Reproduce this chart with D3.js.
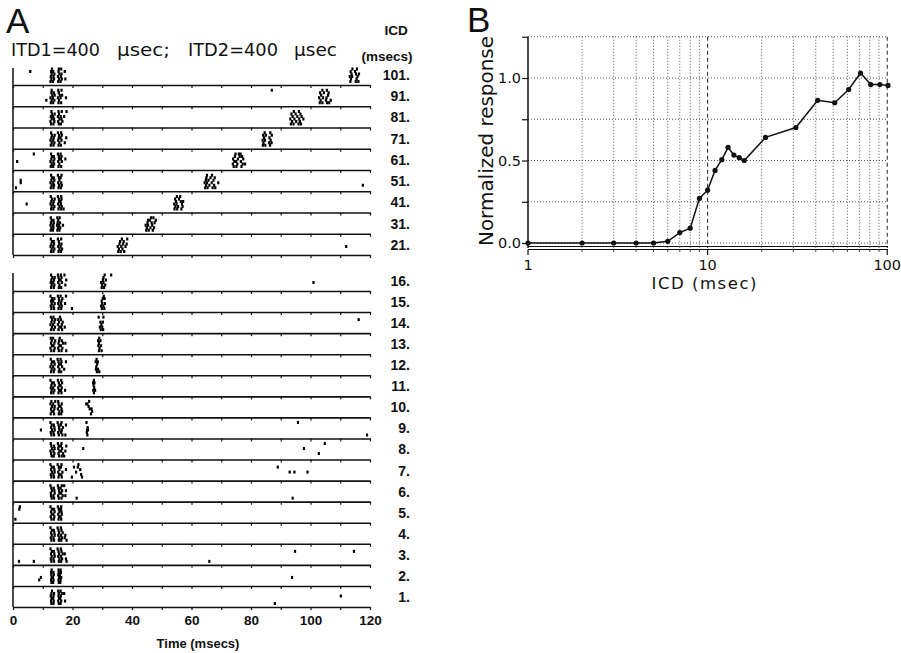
<!DOCTYPE html>
<html>
<head>
<meta charset="utf-8">
<script src="https://cdn.jsdelivr.net/npm/d3@7"></script>
<style>
  html, body { margin: 0; padding: 0; background: #fff; }
  svg { display: block; }
</style>
</head>
<body>
<svg id="chart" width="901" height="653"></svg>
<script>
// ---------------- DATA ----------------
// Panel A: ICD rows (msec), top and bottom groups
const icdTop = [101, 91, 81, 71, 61, 51, 41, 31, 21];
const icdBottom = [16, 15, 14, 13, 12, 11, 10, 9, 8, 7, 6, 5, 4, 3, 2, 1];
const timeTicks = [0, 10, 20, 30, 40, 50, 60, 70, 80, 90, 100, 110, 120];
const timeTickLabels = [0, 20, 40, 60, 80, 100, 120];
const headerParts = ["ITD1=400", "µsec;", "ITD2=400", "µsec"];

// Spike times (msec) per row, one list per trial (6 trials, bottom trial first)
const spikes = {
  101: [[12.6,13.4,15.2,16.0,113.4,115.2,116.1],[12.9,13.8,15.5,16.4,17.6,113.6,115.5],[12.7,13.6,15.1,16.1,113.2,114.0,115.8],[13.0,13.9,15.6,16.3,113.8,115.3,116.3],[5.8,12.8,13.5,15.3,17.4,113.5,115.0],[13.1,15.4,16.2,114.1,115.6]],
  91: [[12.7,13.5,15.3,16.2,103.1,104.0,105.6,106.3],[11.2,13.0,13.9,15.5,103.4,105.2,106.8],[12.6,13.4,15.1,16.0,17.8,102.9,104.2,105.4],[13.2,14.0,15.7,16.5,103.6,105.9],[12.9,13.7,15.4,103.2,104.5,106.1],[13.0,15.2,16.3,87.0,104.0,105.5]],
  81: [[12.8,13.6,15.4,16.1,93.4,94.3,96.0,96.8],[12.6,13.9,15.2,16.6,93.8,95.2,96.4],[13.0,13.8,15.6,16.3,93.2,94.6,96.2,97.6],[12.7,13.5,15.1,16.0,17.2,94.0,95.6,97.0],[13.1,14.0,15.5,93.6,95.0,96.6],[12.9,15.3,16.4,18.0,94.4,96.1]],
  71: [[12.7,13.6,15.3,16.1,84.0,84.8,86.4],[13.0,13.9,15.6,17.4,84.2,86.1,86.9],[12.6,13.5,15.2,16.3,83.9,84.7,86.6],[12.9,13.7,15.4,16.0,17.9,84.4,86.2],[13.1,14.0,15.5,16.4,84.1,85.0,87.0],[12.8,15.1,16.2,84.6,86.5]],
  61: [[12.7,13.5,15.3,16.2,74.2,75.1,76.8],[13.0,13.8,15.6,73.9,75.4,77.2,78.0],[1.4,12.6,13.6,15.2,16.4,74.4,75.0,76.6],[12.9,13.9,15.5,16.1,17.6,74.0,75.6,77.4],[13.1,13.7,15.4,16.3,74.6,76.2,77.0],[7.0,12.8,15.1,16.0,74.8,75.9,76.5]],
  51: [[1.0,12.7,13.6,15.3,16.1,64.6,65.4,67.1,68.0],[13.0,13.8,15.5,16.4,64.9,66.0,67.6,117.6],[2.6,12.6,13.5,15.2,16.2,64.4,65.2,66.8,69.0],[2.6,12.9,13.9,15.6,64.8,65.7,67.4],[13.1,13.7,15.4,16.0,65.0,66.4,67.8],[12.8,15.1,16.3,65.2,66.9]],
  41: [[12.8,13.6,15.3,16.2,17.0,54.3,55.2,56.6],[13.0,13.9,15.6,16.4,54.6,55.5,57.0],[4.6,12.6,13.5,15.2,16.1,54.2,55.0,56.8],[12.9,13.7,15.5,16.0,54.8,56.4,57.2],[13.1,14.0,15.4,16.3,54.5,55.8],[12.7,15.1,16.2,55.1,56.2]],
  31: [[12.7,13.4,14.9,15.6,44.8,45.6,47.0],[12.9,13.6,15.1,15.9,45.0,46.2,47.4],[12.6,13.5,14.8,15.5,16.8,44.6,45.4,46.8],[12.8,13.7,15.0,15.8,45.2,46.6,47.6],[13.0,13.6,15.2,45.4,46.0,48.0],[12.7,14.9,15.7,46.4,47.2]],
  21: [[12.8,13.6,15.3,16.1,35.4,36.2,37.4],[13.0,13.9,15.6,16.5,35.6,36.8],[12.6,13.5,15.2,16.0,35.2,36.4,37.8,112.0],[12.9,13.8,15.5,16.3,35.8,37.0,38.2],[13.1,13.7,15.4,36.0,37.2],[12.7,15.1,16.2,36.6,38.4]],
  16: [[12.8,13.7,15.4,16.2,29.8,30.6],[13.0,13.9,15.6,17.6,30.0,31.0],[12.7,13.5,15.2,16.4,29.6,30.4,101.0],[12.9,13.8,15.5,16.0,17.9,30.2,31.2],[13.2,14.0,15.3,16.3,30.4],[12.8,15.1,16.1,17.3,30.8,33.0]],
  15: [[12.9,13.8,15.3,16.2,19.8,29.9,30.7],[12.7,13.6,15.6,16.4,29.6,30.4],[13.0,14.0,15.2,16.1,17.5,30.0,30.9],[12.8,13.5,15.5,16.3,29.8],[13.1,13.9,15.4,16.6,30.2,30.8],[12.6,15.1,16.0,17.8,30.5]],
  14: [[12.8,13.7,15.3,16.5,29.5,30.3],[13.1,14.1,15.6,16.2,17.4,29.2,30.0],[12.6,13.5,15.1,16.4,29.7],[12.9,13.9,15.5,16.7,29.4,30.2],[13.2,14.2,15.2,16.1,116.2],[12.7,13.6,15.8,28.8,30.4]],
  13: [[12.9,13.8,15.4,16.3,17.9,28.9,29.8],[12.6,14.0,15.2,16.6,29.1],[13.1,13.6,15.6,16.1,28.7,29.6],[12.8,13.9,15.3,16.8,17.6,28.9],[13.0,14.2,15.5,16.4,28.6,29.4],[12.7,13.5,15.7,29.0]],
  12: [[12.8,13.7,15.4,16.2,28.2,29.0],[13.0,13.9,15.6,17.2,27.9,28.6],[12.6,13.5,15.2,16.5,28.0],[12.9,14.0,15.5,16.1,28.3],[13.1,13.8,15.3,16.3,17.8,27.8,28.5],[12.7,15.0,16.0,28.1]],
  11: [[12.8,13.6,15.3,16.3,27.2],[13.0,13.9,15.5,16.1,17.5,27.0,27.6],[12.7,13.5,15.2,16.4,27.3],[12.9,14.0,15.6,16.0,27.1],[13.1,13.7,15.4,16.5,26.9,27.4],[12.6,15.1,16.2,27.2]],
  10: [[12.7,13.8,15.4,16.2,26.2],[13.0,13.6,15.6,16.5,26.6],[12.8,13.9,15.1,16.3,25.8,26.4],[13.1,14.0,15.5,16.0,25.4],[12.6,13.5,15.3,16.4,24.6,25.0],[12.9,14.2,15.2,25.6]],
  9: [[12.9,13.8,15.4,16.6,17.6,25.0,119.0],[12.7,13.6,15.2,16.2,24.8],[9.4,13.1,14.0,15.6,16.4,24.9,25.2],[12.8,13.9,15.5,16.8,25.1],[13.0,13.7,15.3,16.1,17.8],[12.6,15.0,16.3,24.7,95.8]],
  8: [[13.0,13.7,15.5,16.4,17.2],[12.8,13.9,15.3,16.8,102.8],[12.6,13.6,15.6,16.2,17.6],[13.1,14.0,15.2,16.5,23.6,97.8],[12.9,13.8,15.4,16.1,17.9],[12.7,15.1,16.3,104.8]],
  7: [[12.9,13.8,15.3,16.4,19.8,23.2],[12.7,13.6,15.5,16.2,22.9],[13.1,14.0,15.2,16.6,21.2,93.0,94.6,99.0],[12.8,13.9,15.6,17.8,22.6],[13.0,13.7,15.4,16.1,20.5,21.8,89.0],[12.6,15.0,16.3,22.0]],
  6: [[13.0,13.8,15.4,16.3,21.4,94.0],[12.8,13.6,15.2,16.7,17.6],[12.7,14.0,15.6,16.2],[13.1,13.9,15.5,16.5,17.8],[12.9,13.7,15.3,16.0],[12.6,15.1,16.4,17.2]],
  5: [[0.8,12.9,13.7,15.3,16.2],[12.7,13.9,15.5,16.0],[13.0,13.6,15.2,16.4],[12.8,14.0,15.6,16.3],[2.1,13.1,13.8,15.4,16.1],[2.3,12.6,15.1,16.2]],
  4: [[12.9,13.8,15.4,16.2,18.0],[12.7,13.6,15.6,16.5,17.4],[13.0,14.0,15.2,16.1,17.6],[12.8,13.9,15.5,16.7],[13.1,13.7,15.3,16.3],[12.6,15.0,16.1]],
  3: [[2.0,7.0,12.9,13.8,15.4,16.2,18.0,66.0],[12.7,13.6,15.6,16.5,17.8],[13.0,14.0,15.2,16.1],[12.8,13.9,15.5,16.7,17.4],[13.1,13.7,15.3,16.3,94.8,114.6],[12.6,15.0,16.1]],
  2: [[12.9,13.5,15.4,15.9],[8.8,12.8,13.6,15.3,16.0],[9.4,13.0,13.4,15.5,16.2,93.8],[12.9,13.7,15.2,15.8],[12.8,13.6,15.4,16.1],[13.0,15.3,16.0]],
  1: [[12.9,13.6,15.4,16.0,88.0],[12.8,13.7,15.2,16.2,17.5],[13.0,13.5,15.5,15.9],[12.7,13.6,15.3,16.1,110.2],[12.9,13.8,15.4,16.4,17.2],[13.1,15.2,16.0]]
};

// Panel B: normalized response vs ICD
const icdB = [1,2,3,4,5,6,7,8,9,10,11,12,13,14,15,16,21,31,41,51,61,71,81,91,101];
const respB = [0,0,0,0,0,0.01,0.063,0.09,0.27,0.32,0.44,0.505,0.58,0.533,0.517,0.50,0.64,0.70,0.865,0.85,0.93,1.03,0.96,0.96,0.955];
const yTicksB = [0, 0.25, 0.5, 0.75, 1.0, 1.25];
const yTickLabelsB = [0, 0.5, 1.0];
const xMinorB = [2,3,4,5,6,7,8,9,20,30,40,50,60,70,80,90];
const xMajorB = [1, 10, 100];

// ---------------- DRAW ----------------
const svg = d3.select("#chart");
svg.append("rect").attr("width", 901).attr("height", 653).attr("fill", "#fff");

const fontA = "'Liberation Sans', Arial, Helvetica, sans-serif";
const fontG = "'DejaVu Sans', Verdana, sans-serif";
const ink = "#111";

// ===== Panel A =====
const gA = svg.append("g");
const xA = d3.scaleLinear().domain([0, 120]).range([13, 370]);
const yTopRows = d3.scalePoint().domain(icdTop).range([85, 255]);
const yBotRows = d3.scalePoint().domain(icdBottom).range([291, 607]);
const trialY = d3.scaleLinear().domain([0, 5]).range([3.5, 16]);

gA.append("text").attr("x", 6).attr("y", 33).text("A")
  .attr("font-family", fontA).attr("font-size", 35).attr("fill", ink);

// header pieces: x positions and widths
const hdrX = [11, 117, 188, 294];
const hdrW = [89, 53, 90, 43];
headerParts.forEach((s, i) => {
  gA.append("text").attr("x", hdrX[i]).attr("y", 56)
    .attr("font-family", fontG).attr("font-size", 18).attr("fill", ink)
    .attr("textLength", hdrW[i]).attr("lengthAdjust", "spacingAndGlyphs")
    .text(s);
});

gA.append("text").attr("x", 396).attr("y", 35).attr("text-anchor", "middle")
  .attr("font-family", fontA).attr("font-weight", "bold").attr("font-size", 13.5)
  .attr("fill", ink).text("ICD");
gA.append("text").attr("x", 387).attr("y", 61).attr("text-anchor", "middle")
  .attr("font-family", fontA).attr("font-weight", "bold").attr("font-size", 13.5)
  .attr("fill", ink).text("(msecs)");

function drawGroup(rows, yRows, topY) {
  const g = gA.append("g");
  g.append("line").attr("x1", xA(0)).attr("x2", xA(0))
    .attr("y1", topY).attr("y2", yRows(rows[rows.length - 1]))
    .attr("stroke", ink).attr("stroke-width", 1.5);
  rows.forEach(icd => {
    const base = yRows(icd);
    const ax = g.append("g").attr("transform", `translate(0,${base})`)
      .call(d3.axisBottom(xA).tickValues(timeTicks).tickSize(3).tickSizeOuter(0).tickFormat(""));
    ax.select(".domain").attr("stroke", ink).attr("stroke-width", 1.6);
    ax.selectAll(".tick line").attr("stroke", ink).attr("stroke-width", 1.2);
    const pts = [];
    spikes[icd].forEach((trial, k) => trial.forEach(t => pts.push({ t, k })));
    g.append("g").selectAll("rect").data(pts).join("rect")
      .attr("x", d => xA(d.t) - 1.1)
      .attr("y", d => base - trialY(d.k) - 1.5)
      .attr("width", 2.2).attr("height", 3)
      .attr("fill", "#000");
    g.append("text").attr("x", 410).attr("y", base - 10).attr("dy", "0.35em")
      .attr("text-anchor", "end").attr("font-family", fontA).attr("font-weight", "bold")
      .attr("font-size", 14).attr("fill", ink).text(icd + ".");
  });
}
drawGroup(icdTop, yTopRows, 68);
drawGroup(icdBottom, yBotRows, 273);

const axLab = gA.append("g").attr("transform", `translate(0,${yBotRows(1)})`)
  .call(d3.axisBottom(xA).tickValues(timeTickLabels).tickSize(0).tickPadding(8));
axLab.select(".domain").remove();
axLab.selectAll("text").attr("font-family", fontA).attr("font-weight", "bold")
  .attr("font-size", 13.5).attr("fill", ink);

gA.append("text").attr("x", 198).attr("y", 648).attr("text-anchor", "middle")
  .attr("font-family", fontA).attr("font-weight", "bold").attr("font-size", 13)
  .attr("fill", ink).text("Time (msecs)");

// ===== Panel B =====
const gB = svg.append("g");
const xB = d3.scaleLog().domain([1, 101]).range([528, 888]);
const yB = d3.scaleLinear().domain([0, 1]).range([243, 78]);
const yTopB = yB(1.25), yBotB = 248;

gB.append("text").attr("x", 467).attr("y", 32).text("B")
  .attr("font-family", fontA).attr("font-size", 35).attr("fill", ink);

gB.append("g").selectAll("line").data(yTicksB).join("line")
  .attr("x1", xB(1)).attr("x2", xB(101))
  .attr("y1", d => yB(d)).attr("y2", d => yB(d))
  .attr("stroke", "#555").attr("stroke-width", 1).attr("stroke-dasharray", "1,2");
gB.append("g").selectAll("line").data(xMinorB).join("line")
  .attr("x1", d => xB(d)).attr("x2", d => xB(d))
  .attr("y1", yTopB).attr("y2", yBotB)
  .attr("stroke", "#555").attr("stroke-width", 1).attr("stroke-dasharray", "1,2");
gB.append("g").selectAll("line").data([10, 100]).join("line")
  .attr("x1", d => xB(d)).attr("x2", d => xB(d))
  .attr("y1", yTopB).attr("y2", yBotB)
  .attr("stroke", "#222").attr("stroke-width", 1).attr("stroke-dasharray", "4,3");

const yAx = gB.append("g").attr("transform", `translate(${xB(1)},0)`)
  .call(d3.axisLeft(yB).tickValues(yTicksB).tickSize(6).tickSizeOuter(0).tickFormat(""));
yAx.select(".domain").attr("d", `M0,${yTopB}V${yBotB}`).attr("stroke", ink).attr("stroke-width", 1.5);
yAx.selectAll(".tick line").attr("stroke", ink).attr("stroke-width", 1.2);
gB.append("g").selectAll("text").data(yTickLabelsB).join("text")
  .attr("x", 521).attr("y", d => yB(d)).attr("dy", "0.35em").attr("text-anchor", "end")
  .attr("font-family", fontG).attr("font-size", 14.5).attr("fill", ink)
  .text(d => d3.format(".1f")(d));

[246.5, 249.5].forEach(yy => {
  gB.append("line").attr("x1", xB(1)).attr("x2", xB(101)).attr("y1", yy).attr("y2", yy)
    .attr("stroke", ink).attr("stroke-width", 1.2);
});
gB.append("g").selectAll("line").data(xMajorB).join("line")
  .attr("x1", d => xB(d)).attr("x2", d => xB(d)).attr("y1", 249.5).attr("y2", 255)
  .attr("stroke", ink).attr("stroke-width", 1.2);
gB.append("g").selectAll("line").data(xMinorB).join("line")
  .attr("x1", d => xB(d)).attr("x2", d => xB(d)).attr("y1", 249.5).attr("y2", 252)
  .attr("stroke", "#444").attr("stroke-width", 1);
gB.append("g").selectAll("text").data(xMajorB).join("text")
  .attr("x", d => xB(d)).attr("y", 270).attr("text-anchor", "middle")
  .attr("font-family", fontG).attr("font-size", 14.5).attr("fill", ink)
  .text(d => d);

gB.append("text").attr("x", 704).attr("y", 289).attr("text-anchor", "middle")
  .attr("font-family", fontG).attr("font-size", 16.5).attr("fill", ink)
  .attr("textLength", 105).attr("lengthAdjust", "spacing")
  .text("ICD  (msec)");

gB.append("text").attr("transform", "translate(493,141) rotate(-90)")
  .attr("text-anchor", "middle").attr("font-family", fontG).attr("font-size", 19)
  .attr("fill", ink).attr("textLength", 210).attr("lengthAdjust", "spacingAndGlyphs")
  .text("Normalized response");

const ptsB = icdB.map((d, i) => ({ x: d, y: respB[i] }));
gB.append("path").datum(ptsB)
  .attr("d", d3.line().x(d => xB(d.x)).y(d => yB(d.y)))
  .attr("fill", "none").attr("stroke", ink).attr("stroke-width", 1.5);
gB.append("g").selectAll("circle").data(ptsB).join("circle")
  .attr("cx", d => xB(d.x)).attr("cy", d => yB(d.y)).attr("r", 2.6)
  .attr("fill", ink);
</script>
</body>
</html>
